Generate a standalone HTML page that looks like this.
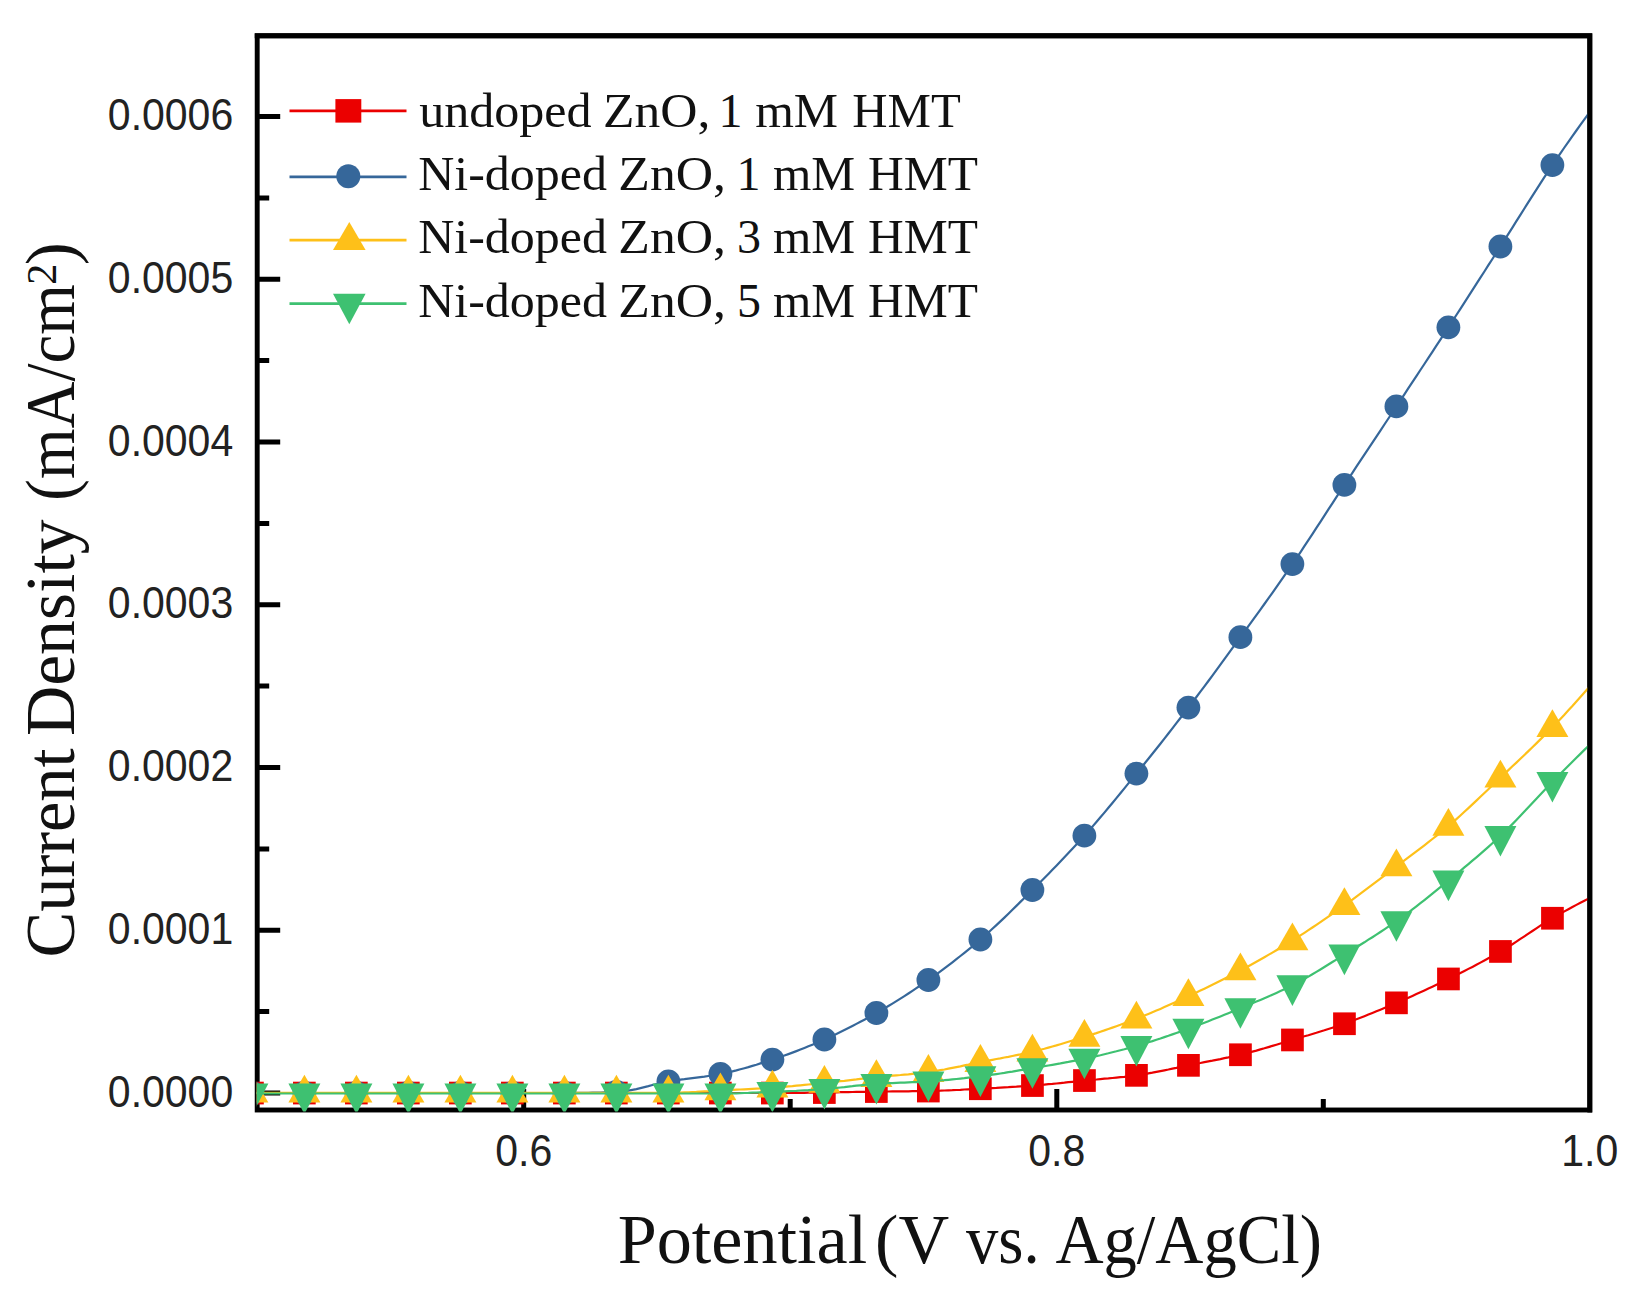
<!DOCTYPE html>
<html><head><meta charset="utf-8"><title>Current Density vs Potential</title>
<style>
html,body{margin:0;padding:0;background:#fff;}
svg{display:block;}
.sans{font-family:"Liberation Sans",Arial,sans-serif;font-size:41px;fill:#222;}
.serif{font-family:"Liberation Serif","Times New Roman",serif;fill:#111;}
</style></head><body>
<svg width="1641" height="1305" viewBox="0 0 1641 1305">
<rect width="1641" height="1305" fill="#fff"/>
<defs><clipPath id="clip"><rect x="256.7" y="35.8" width="1333.1" height="1075.7"/></clipPath></defs>

<rect x="257.2" y="35.8" width="1332.6" height="1074.2" fill="none" stroke="#000" stroke-width="4.9"/>
<path d="M257.2,1093.0 h23 M257.2,930.2 h23 M257.2,767.5 h23 M257.2,604.8 h23 M257.2,442.0 h23 M257.2,279.2 h23 M257.2,116.5 h23 M257.2,1011.6 h12 M257.2,848.9 h12 M257.2,686.1 h12 M257.2,523.4 h12 M257.2,360.6 h12 M257.2,197.9 h12 M523.7,1110.0 v-21 M1056.8,1110.0 v-21 M790.2,1110.0 v-11 M1323.3,1110.0 v-11" stroke="#000" stroke-width="5.0" fill="none"/>
<text class="sans" transform="translate(233.2,1106.6) scale(1,1.07)" text-anchor="end">0.0000</text>
<text class="sans" transform="translate(233.2,943.9) scale(1,1.07)" text-anchor="end">0.0001</text>
<text class="sans" transform="translate(233.2,781.1) scale(1,1.07)" text-anchor="end">0.0002</text>
<text class="sans" transform="translate(233.2,618.4) scale(1,1.07)" text-anchor="end">0.0003</text>
<text class="sans" transform="translate(233.2,455.6) scale(1,1.07)" text-anchor="end">0.0004</text>
<text class="sans" transform="translate(233.2,292.9) scale(1,1.07)" text-anchor="end">0.0005</text>
<text class="sans" transform="translate(233.2,130.1) scale(1,1.07)" text-anchor="end">0.0006</text>
<text class="sans" transform="translate(523.7,1165.6) scale(1,1.08)" text-anchor="middle">0.6</text>
<text class="sans" transform="translate(1056.8,1165.6) scale(1,1.08)" text-anchor="middle">0.8</text>
<text class="sans" transform="translate(1589.8,1165.6) scale(1,1.08)" text-anchor="middle">1.0</text>
<g clip-path="url(#clip)">
<path d="M252.4,1093.0 L256.4,1093.0 L260.4,1093.0 L264.4,1093.0 L268.4,1093.0 L272.4,1093.0 L276.4,1093.0 L280.4,1093.0 L284.4,1093.0 L288.4,1093.0 L292.4,1093.0 L296.4,1093.0 L300.4,1093.0 L304.4,1093.0 L308.4,1093.0 L312.4,1093.0 L316.4,1093.0 L320.4,1093.0 L324.4,1093.0 L328.4,1093.0 L332.4,1093.0 L336.4,1093.0 L340.4,1093.0 L344.4,1093.0 L348.4,1093.0 L352.4,1093.0 L356.4,1093.0 L360.4,1093.0 L364.4,1093.0 L368.4,1093.0 L372.4,1093.0 L376.4,1093.0 L380.4,1093.0 L384.4,1093.0 L388.4,1093.0 L392.4,1093.0 L396.4,1093.0 L400.4,1093.0 L404.4,1093.0 L408.4,1093.0 L412.4,1093.0 L416.4,1093.0 L420.4,1093.0 L424.4,1093.0 L428.4,1093.0 L432.4,1093.0 L436.4,1093.0 L440.4,1093.0 L444.4,1093.0 L448.4,1093.0 L452.4,1093.0 L456.4,1093.0 L460.4,1093.0 L464.4,1093.0 L468.4,1093.0 L472.4,1093.0 L476.4,1093.0 L480.4,1093.0 L484.4,1093.0 L488.4,1093.0 L492.4,1093.0 L496.4,1093.0 L500.4,1093.0 L504.4,1093.0 L508.4,1093.0 L512.4,1093.0 L516.4,1093.0 L520.4,1093.0 L524.4,1093.0 L528.4,1093.0 L532.4,1093.0 L536.4,1093.0 L540.4,1093.0 L544.4,1093.0 L548.4,1093.0 L552.4,1093.0 L556.4,1093.0 L560.4,1093.0 L564.4,1093.0 L568.4,1093.0 L572.4,1093.0 L576.4,1093.0 L580.4,1093.0 L584.4,1093.0 L588.4,1093.0 L592.4,1093.0 L596.4,1093.0 L600.4,1093.0 L604.4,1093.0 L608.4,1093.0 L612.4,1093.0 L616.4,1093.0 L620.4,1093.0 L624.4,1093.0 L628.4,1093.0 L632.4,1093.0 L636.4,1093.0 L640.4,1093.0 L644.4,1093.0 L648.4,1093.0 L652.4,1093.0 L656.4,1093.0 L660.4,1093.0 L664.4,1093.0 L668.4,1093.0 L672.4,1093.0 L676.4,1093.0 L680.4,1093.0 L684.4,1093.0 L688.4,1093.0 L692.4,1093.0 L696.4,1093.0 L700.4,1093.0 L704.4,1093.0 L708.4,1093.0 L712.4,1093.0 L716.4,1093.0 L720.4,1093.0 L724.4,1093.0 L728.4,1093.0 L732.4,1093.0 L736.4,1093.0 L740.4,1093.0 L744.4,1093.0 L748.4,1093.0 L752.4,1093.0 L756.4,1093.0 L760.4,1093.0 L764.4,1093.0 L768.4,1093.0 L772.4,1093.0 L776.4,1093.0 L780.4,1093.0 L784.4,1093.0 L788.4,1092.9 L792.4,1092.9 L796.4,1092.9 L800.4,1092.8 L804.4,1092.8 L808.4,1092.7 L812.4,1092.7 L816.4,1092.6 L820.4,1092.6 L824.4,1092.5 L828.4,1092.4 L832.4,1092.4 L836.4,1092.3 L840.4,1092.2 L844.4,1092.2 L848.4,1092.1 L852.4,1092.0 L856.4,1091.9 L860.4,1091.9 L864.4,1091.8 L868.4,1091.7 L872.4,1091.7 L876.4,1091.6 L880.4,1091.5 L884.4,1091.5 L888.4,1091.5 L892.4,1091.4 L896.4,1091.4 L900.4,1091.3 L904.4,1091.3 L908.4,1091.3 L912.4,1091.2 L916.4,1091.2 L920.4,1091.1 L924.4,1091.1 L928.4,1091.0 L932.4,1090.9 L936.4,1090.8 L940.4,1090.7 L944.4,1090.5 L948.4,1090.3 L952.4,1090.2 L956.4,1090.0 L960.4,1089.8 L964.4,1089.5 L968.4,1089.3 L972.4,1089.1 L976.4,1088.9 L980.4,1088.7 L984.4,1088.5 L988.4,1088.3 L992.4,1088.1 L996.4,1087.9 L1000.4,1087.6 L1004.4,1087.4 L1008.4,1087.2 L1012.4,1086.9 L1016.4,1086.7 L1020.4,1086.4 L1024.4,1086.2 L1028.4,1085.9 L1032.4,1085.6 L1036.4,1085.3 L1040.4,1085.0 L1044.4,1084.6 L1048.4,1084.2 L1052.4,1083.9 L1056.4,1083.5 L1060.4,1083.1 L1064.4,1082.7 L1068.4,1082.2 L1072.4,1081.8 L1076.4,1081.4 L1080.4,1081.0 L1084.4,1080.6 L1088.4,1080.2 L1092.4,1079.8 L1096.4,1079.5 L1100.4,1079.1 L1104.4,1078.7 L1108.4,1078.4 L1112.4,1078.0 L1116.4,1077.6 L1120.4,1077.2 L1124.4,1076.8 L1128.4,1076.3 L1132.4,1075.8 L1136.4,1075.3 L1140.4,1074.7 L1144.4,1074.1 L1148.4,1073.4 L1152.4,1072.7 L1156.4,1071.9 L1160.4,1071.1 L1164.4,1070.3 L1168.4,1069.5 L1172.4,1068.6 L1176.4,1067.8 L1180.4,1066.9 L1184.4,1066.1 L1188.4,1065.3 L1192.4,1064.5 L1196.4,1063.7 L1200.4,1063.0 L1204.4,1062.2 L1208.4,1061.4 L1212.4,1060.7 L1216.4,1059.9 L1220.4,1059.1 L1224.4,1058.2 L1228.4,1057.4 L1232.4,1056.5 L1236.4,1055.6 L1240.4,1054.7 L1244.4,1053.7 L1248.4,1052.7 L1252.4,1051.6 L1256.4,1050.6 L1260.4,1049.4 L1264.4,1048.3 L1268.4,1047.1 L1272.4,1045.9 L1276.4,1044.7 L1280.4,1043.5 L1284.4,1042.3 L1288.4,1041.1 L1292.4,1039.9 L1296.4,1038.7 L1300.4,1037.5 L1304.4,1036.3 L1308.4,1035.2 L1312.4,1034.0 L1316.4,1032.8 L1320.4,1031.5 L1324.4,1030.3 L1328.4,1029.0 L1332.4,1027.7 L1336.4,1026.4 L1340.4,1025.1 L1344.4,1023.7 L1348.4,1022.3 L1352.4,1020.8 L1356.4,1019.3 L1360.4,1017.8 L1364.4,1016.2 L1368.4,1014.6 L1372.4,1013.0 L1376.4,1011.3 L1380.4,1009.7 L1384.4,1008.0 L1388.4,1006.3 L1392.4,1004.6 L1396.4,1002.9 L1400.4,1001.2 L1404.4,999.4 L1408.4,997.7 L1412.4,995.9 L1416.4,994.1 L1420.4,992.3 L1424.4,990.4 L1428.4,988.6 L1432.4,986.7 L1436.4,984.8 L1440.4,982.9 L1444.4,981.0 L1448.4,979.0 L1452.4,977.0 L1456.4,975.0 L1460.4,973.0 L1464.4,971.0 L1468.4,968.9 L1472.4,966.9 L1476.4,964.8 L1480.4,962.6 L1484.4,960.5 L1488.4,958.3 L1492.4,956.1 L1496.4,953.8 L1500.4,951.5 L1504.4,949.1 L1508.4,946.7 L1512.4,944.2 L1516.4,941.6 L1520.4,938.9 L1524.4,936.3 L1528.4,933.6 L1532.4,931.0 L1536.4,928.3 L1540.4,925.7 L1544.4,923.2 L1548.4,920.7 L1552.4,918.3 L1556.4,916.0 L1560.4,913.7 L1564.4,911.4 L1568.4,909.2 L1572.4,907.0 L1576.4,904.9 L1580.4,902.8 L1584.4,900.7 L1588.4,898.6 L1589.8,897.9" fill="none" stroke="#EB0000" stroke-width="2.2"/>
<g fill="#EB0000"><rect x="241.1" y="1081.7" width="22.7" height="22.7"/><rect x="293.0" y="1081.7" width="22.7" height="22.7"/><rect x="345.0" y="1081.7" width="22.7" height="22.7"/><rect x="397.0" y="1081.7" width="22.7" height="22.7"/><rect x="449.0" y="1081.7" width="22.7" height="22.7"/><rect x="501.0" y="1081.7" width="22.7" height="22.7"/><rect x="553.0" y="1081.7" width="22.7" height="22.7"/><rect x="605.0" y="1081.7" width="22.7" height="22.7"/><rect x="657.0" y="1081.7" width="22.7" height="22.7"/><rect x="709.0" y="1081.7" width="22.7" height="22.7"/><rect x="761.0" y="1081.7" width="22.7" height="22.7"/><rect x="813.0" y="1081.2" width="22.7" height="22.7"/><rect x="865.0" y="1080.2" width="22.7" height="22.7"/><rect x="917.0" y="1079.7" width="22.7" height="22.7"/><rect x="969.0" y="1077.4" width="22.7" height="22.7"/><rect x="1021.1" y="1074.2" width="22.7" height="22.7"/><rect x="1073.1" y="1069.2" width="22.7" height="22.7"/><rect x="1125.1" y="1064.0" width="22.7" height="22.7"/><rect x="1177.1" y="1054.0" width="22.7" height="22.7"/><rect x="1229.1" y="1043.4" width="22.7" height="22.7"/><rect x="1281.1" y="1028.6" width="22.7" height="22.7"/><rect x="1333.1" y="1012.4" width="22.7" height="22.7"/><rect x="1385.1" y="991.5" width="22.7" height="22.7"/><rect x="1437.1" y="967.6" width="22.7" height="22.7"/><rect x="1489.1" y="940.1" width="22.7" height="22.7"/><rect x="1541.1" y="906.9" width="22.7" height="22.7"/></g>
<path d="M252.4,1093.0 L256.4,1093.0 L260.4,1093.0 L264.4,1093.0 L268.4,1093.0 L272.4,1093.0 L276.4,1093.0 L280.4,1093.0 L284.4,1093.0 L288.4,1093.0 L292.4,1093.0 L296.4,1093.0 L300.4,1093.0 L304.4,1093.0 L308.4,1093.0 L312.4,1093.0 L316.4,1093.0 L320.4,1093.0 L324.4,1093.0 L328.4,1093.0 L332.4,1093.0 L336.4,1093.0 L340.4,1093.0 L344.4,1093.0 L348.4,1093.0 L352.4,1093.0 L356.4,1093.0 L360.4,1093.0 L364.4,1093.0 L368.4,1093.0 L372.4,1093.0 L376.4,1093.0 L380.4,1093.0 L384.4,1093.0 L388.4,1093.0 L392.4,1093.0 L396.4,1093.0 L400.4,1093.0 L404.4,1093.0 L408.4,1093.0 L412.4,1093.0 L416.4,1093.0 L420.4,1093.0 L424.4,1093.0 L428.4,1093.0 L432.4,1093.0 L436.4,1093.0 L440.4,1093.0 L444.4,1093.0 L448.4,1093.0 L452.4,1093.0 L456.4,1093.0 L460.4,1093.0 L464.4,1093.0 L468.4,1093.0 L472.4,1093.0 L476.4,1093.0 L480.4,1093.0 L484.4,1093.0 L488.4,1093.0 L492.4,1093.0 L496.4,1093.0 L500.4,1093.0 L504.4,1093.0 L508.4,1093.0 L512.4,1093.0 L516.4,1093.0 L520.4,1093.0 L524.4,1093.0 L528.4,1093.0 L532.4,1093.0 L536.4,1093.0 L540.4,1093.0 L544.4,1093.0 L548.4,1093.0 L552.4,1093.0 L556.4,1093.0 L560.4,1093.0 L564.4,1093.0 L568.4,1093.0 L572.4,1093.0 L576.4,1092.9 L580.4,1092.9 L584.4,1092.8 L588.4,1092.8 L592.4,1092.7 L596.4,1092.6 L600.4,1092.5 L604.4,1092.4 L608.4,1092.3 L612.4,1092.1 L616.4,1092.0 L620.4,1091.8 L624.4,1091.3 L628.4,1090.7 L632.4,1089.9 L636.4,1089.1 L640.4,1088.1 L644.4,1087.1 L648.4,1086.1 L652.4,1085.0 L656.4,1084.0 L660.4,1083.1 L664.4,1082.2 L668.4,1081.5 L672.4,1080.9 L676.4,1080.3 L680.4,1079.7 L684.4,1079.2 L688.4,1078.6 L692.4,1078.1 L696.4,1077.6 L700.4,1077.1 L704.4,1076.6 L708.4,1076.0 L712.4,1075.4 L716.4,1074.7 L720.4,1074.0 L724.4,1073.2 L728.4,1072.3 L732.4,1071.4 L736.4,1070.4 L740.4,1069.3 L744.4,1068.2 L748.4,1067.1 L752.4,1065.9 L756.4,1064.7 L760.4,1063.4 L764.4,1062.2 L768.4,1060.9 L772.4,1059.6 L776.4,1058.3 L780.4,1056.9 L784.4,1055.5 L788.4,1054.1 L792.4,1052.6 L796.4,1051.1 L800.4,1049.5 L804.4,1047.9 L808.4,1046.3 L812.4,1044.7 L816.4,1043.0 L820.4,1041.2 L824.4,1039.5 L828.4,1037.7 L832.4,1035.9 L836.4,1034.0 L840.4,1032.1 L844.4,1030.1 L848.4,1028.1 L852.4,1026.0 L856.4,1023.9 L860.4,1021.8 L864.4,1019.7 L868.4,1017.5 L872.4,1015.2 L876.4,1013.0 L880.4,1010.7 L884.4,1008.4 L888.4,1006.0 L892.4,1003.6 L896.4,1001.1 L900.4,998.6 L904.4,996.1 L908.4,993.5 L912.4,990.9 L916.4,988.2 L920.4,985.5 L924.4,982.8 L928.4,980.0 L932.4,977.2 L936.4,974.3 L940.4,971.4 L944.4,968.4 L948.4,965.4 L952.4,962.3 L956.4,959.2 L960.4,956.0 L964.4,952.8 L968.4,949.6 L972.4,946.3 L976.4,942.9 L980.4,939.5 L984.4,936.0 L988.4,932.5 L992.4,928.8 L996.4,925.1 L1000.4,921.4 L1004.4,917.6 L1008.4,913.7 L1012.4,909.8 L1016.4,905.9 L1020.4,901.9 L1024.4,898.0 L1028.4,894.0 L1032.4,890.0 L1036.4,886.0 L1040.4,882.0 L1044.4,878.0 L1048.4,873.9 L1052.4,869.8 L1056.4,865.7 L1060.4,861.5 L1064.4,857.3 L1068.4,853.1 L1072.4,848.8 L1076.4,844.5 L1080.4,840.1 L1084.4,835.7 L1088.4,831.2 L1092.4,826.6 L1096.4,822.0 L1100.4,817.3 L1104.4,812.6 L1108.4,807.8 L1112.4,803.0 L1116.4,798.1 L1120.4,793.3 L1124.4,788.4 L1128.4,783.4 L1132.4,778.5 L1136.4,773.6 L1140.4,768.7 L1144.4,763.7 L1148.4,758.7 L1152.4,753.7 L1156.4,748.7 L1160.4,743.7 L1164.4,738.6 L1168.4,733.5 L1172.4,728.4 L1176.4,723.2 L1180.4,718.0 L1184.4,712.8 L1188.4,707.6 L1192.4,702.3 L1196.4,697.0 L1200.4,691.7 L1204.4,686.4 L1208.4,681.0 L1212.4,675.6 L1216.4,670.1 L1220.4,664.7 L1224.4,659.2 L1228.4,653.7 L1232.4,648.2 L1236.4,642.7 L1240.4,637.2 L1244.4,631.7 L1248.4,626.2 L1252.4,620.6 L1256.4,615.1 L1260.4,609.6 L1264.4,604.0 L1268.4,598.4 L1272.4,592.8 L1276.4,587.1 L1280.4,581.4 L1284.4,575.7 L1288.4,569.9 L1292.4,564.1 L1296.4,558.2 L1300.4,552.3 L1304.4,546.2 L1308.4,540.2 L1312.4,534.1 L1316.4,527.9 L1320.4,521.8 L1324.4,515.6 L1328.4,509.4 L1332.4,503.3 L1336.4,497.1 L1340.4,491.0 L1344.4,484.9 L1348.4,478.8 L1352.4,472.8 L1356.4,466.7 L1360.4,460.7 L1364.4,454.7 L1368.4,448.7 L1372.4,442.6 L1376.4,436.6 L1380.4,430.6 L1384.4,424.5 L1388.4,418.5 L1392.4,412.5 L1396.4,406.4 L1400.4,400.3 L1404.4,394.3 L1408.4,388.2 L1412.4,382.2 L1416.4,376.1 L1420.4,370.0 L1424.4,364.0 L1428.4,357.9 L1432.4,351.8 L1436.4,345.7 L1440.4,339.6 L1444.4,333.4 L1448.4,327.3 L1452.4,321.1 L1456.4,315.0 L1460.4,308.8 L1464.4,302.6 L1468.4,296.4 L1472.4,290.2 L1476.4,283.9 L1480.4,277.7 L1484.4,271.5 L1488.4,265.2 L1492.4,259.0 L1496.4,252.7 L1500.4,246.5 L1504.4,240.2 L1508.4,233.9 L1512.4,227.6 L1516.4,221.2 L1520.4,214.9 L1524.4,208.5 L1528.4,202.1 L1532.4,195.8 L1536.4,189.6 L1540.4,183.3 L1544.4,177.2 L1548.4,171.1 L1552.4,165.1 L1556.4,159.2 L1560.4,153.3 L1564.4,147.5 L1568.4,141.8 L1572.4,136.1 L1576.4,130.5 L1580.4,124.9 L1584.4,119.4 L1588.4,113.9 L1589.8,112.0" fill="none" stroke="#36679A" stroke-width="2.2"/>
<g fill="#36679A"><circle cx="252.4" cy="1093.0" r="11.9"/><circle cx="304.4" cy="1093.0" r="11.9"/><circle cx="356.4" cy="1093.0" r="11.9"/><circle cx="408.4" cy="1093.0" r="11.9"/><circle cx="460.4" cy="1093.0" r="11.9"/><circle cx="512.4" cy="1093.0" r="11.9"/><circle cx="564.4" cy="1093.0" r="11.9"/><circle cx="616.4" cy="1092.0" r="11.9"/><circle cx="668.4" cy="1081.5" r="11.9"/><circle cx="720.4" cy="1074.0" r="11.9"/><circle cx="772.4" cy="1059.6" r="11.9"/><circle cx="824.4" cy="1039.5" r="11.9"/><circle cx="876.4" cy="1013.0" r="11.9"/><circle cx="928.4" cy="980.0" r="11.9"/><circle cx="980.4" cy="939.5" r="11.9"/><circle cx="1032.4" cy="890.0" r="11.9"/><circle cx="1084.4" cy="835.7" r="11.9"/><circle cx="1136.4" cy="773.6" r="11.9"/><circle cx="1188.4" cy="707.6" r="11.9"/><circle cx="1240.4" cy="637.2" r="11.9"/><circle cx="1292.4" cy="564.1" r="11.9"/><circle cx="1344.4" cy="484.9" r="11.9"/><circle cx="1396.4" cy="406.4" r="11.9"/><circle cx="1448.4" cy="327.3" r="11.9"/><circle cx="1500.4" cy="246.5" r="11.9"/><circle cx="1552.4" cy="165.1" r="11.9"/></g>
<path d="M252.4,1092.8 L256.4,1092.8 L260.4,1092.8 L264.4,1092.8 L268.4,1092.8 L272.4,1092.8 L276.4,1092.8 L280.4,1092.8 L284.4,1092.8 L288.4,1092.8 L292.4,1092.8 L296.4,1092.8 L300.4,1092.8 L304.4,1092.8 L308.4,1092.8 L312.4,1092.8 L316.4,1092.8 L320.4,1092.8 L324.4,1092.8 L328.4,1092.8 L332.4,1092.8 L336.4,1092.8 L340.4,1092.8 L344.4,1092.8 L348.4,1092.8 L352.4,1092.8 L356.4,1092.8 L360.4,1092.8 L364.4,1092.8 L368.4,1092.8 L372.4,1092.8 L376.4,1092.8 L380.4,1092.8 L384.4,1092.8 L388.4,1092.8 L392.4,1092.8 L396.4,1092.8 L400.4,1092.8 L404.4,1092.8 L408.4,1092.8 L412.4,1092.8 L416.4,1092.8 L420.4,1092.8 L424.4,1092.8 L428.4,1092.8 L432.4,1092.8 L436.4,1092.8 L440.4,1092.8 L444.4,1092.8 L448.4,1092.8 L452.4,1092.8 L456.4,1092.8 L460.4,1092.8 L464.4,1092.8 L468.4,1092.8 L472.4,1092.8 L476.4,1092.8 L480.4,1092.8 L484.4,1092.8 L488.4,1092.8 L492.4,1092.8 L496.4,1092.8 L500.4,1092.8 L504.4,1092.8 L508.4,1092.8 L512.4,1092.8 L516.4,1092.8 L520.4,1092.8 L524.4,1092.8 L528.4,1092.8 L532.4,1092.8 L536.4,1092.8 L540.4,1092.8 L544.4,1092.8 L548.4,1092.8 L552.4,1092.8 L556.4,1092.8 L560.4,1092.8 L564.4,1092.8 L568.4,1092.8 L572.4,1092.8 L576.4,1092.8 L580.4,1092.8 L584.4,1092.8 L588.4,1092.8 L592.4,1092.8 L596.4,1092.8 L600.4,1092.8 L604.4,1092.8 L608.4,1092.8 L612.4,1092.8 L616.4,1092.8 L620.4,1092.8 L624.4,1092.8 L628.4,1092.8 L632.4,1092.8 L636.4,1092.8 L640.4,1092.8 L644.4,1092.8 L648.4,1092.8 L652.4,1092.8 L656.4,1092.8 L660.4,1092.8 L664.4,1092.8 L668.4,1092.8 L672.4,1092.8 L676.4,1092.7 L680.4,1092.6 L684.4,1092.4 L688.4,1092.3 L692.4,1092.1 L696.4,1091.9 L700.4,1091.6 L704.4,1091.4 L708.4,1091.2 L712.4,1090.9 L716.4,1090.7 L720.4,1090.5 L724.4,1090.3 L728.4,1090.1 L732.4,1089.9 L736.4,1089.7 L740.4,1089.5 L744.4,1089.3 L748.4,1089.1 L752.4,1088.9 L756.4,1088.7 L760.4,1088.5 L764.4,1088.2 L768.4,1088.0 L772.4,1087.7 L776.4,1087.4 L780.4,1087.1 L784.4,1086.8 L788.4,1086.4 L792.4,1086.1 L796.4,1085.7 L800.4,1085.3 L804.4,1084.9 L808.4,1084.5 L812.4,1084.1 L816.4,1083.7 L820.4,1083.3 L824.4,1082.9 L828.4,1082.5 L832.4,1082.1 L836.4,1081.6 L840.4,1081.2 L844.4,1080.8 L848.4,1080.3 L852.4,1079.8 L856.4,1079.4 L860.4,1078.9 L864.4,1078.5 L868.4,1078.1 L872.4,1077.6 L876.4,1077.2 L880.4,1076.8 L884.4,1076.4 L888.4,1076.1 L892.4,1075.7 L896.4,1075.3 L900.4,1075.0 L904.4,1074.6 L908.4,1074.3 L912.4,1073.9 L916.4,1073.5 L920.4,1073.1 L924.4,1072.6 L928.4,1072.1 L932.4,1071.5 L936.4,1070.9 L940.4,1070.2 L944.4,1069.5 L948.4,1068.7 L952.4,1067.9 L956.4,1067.1 L960.4,1066.3 L964.4,1065.4 L968.4,1064.6 L972.4,1063.7 L976.4,1062.9 L980.4,1062.1 L984.4,1061.3 L988.4,1060.6 L992.4,1059.8 L996.4,1059.0 L1000.4,1058.3 L1004.4,1057.5 L1008.4,1056.8 L1012.4,1056.0 L1016.4,1055.2 L1020.4,1054.4 L1024.4,1053.5 L1028.4,1052.6 L1032.4,1051.7 L1036.4,1050.7 L1040.4,1049.7 L1044.4,1048.7 L1048.4,1047.6 L1052.4,1046.5 L1056.4,1045.4 L1060.4,1044.2 L1064.4,1043.0 L1068.4,1041.8 L1072.4,1040.6 L1076.4,1039.4 L1080.4,1038.1 L1084.4,1036.9 L1088.4,1035.6 L1092.4,1034.4 L1096.4,1033.1 L1100.4,1031.7 L1104.4,1030.4 L1108.4,1029.0 L1112.4,1027.6 L1116.4,1026.2 L1120.4,1024.8 L1124.4,1023.3 L1128.4,1021.8 L1132.4,1020.3 L1136.4,1018.8 L1140.4,1017.2 L1144.4,1015.6 L1148.4,1014.0 L1152.4,1012.3 L1156.4,1010.6 L1160.4,1008.9 L1164.4,1007.1 L1168.4,1005.3 L1172.4,1003.5 L1176.4,1001.7 L1180.4,999.9 L1184.4,998.0 L1188.4,996.2 L1192.4,994.3 L1196.4,992.5 L1200.4,990.6 L1204.4,988.7 L1208.4,986.7 L1212.4,984.8 L1216.4,982.8 L1220.4,980.8 L1224.4,978.8 L1228.4,976.8 L1232.4,974.7 L1236.4,972.6 L1240.4,970.5 L1244.4,968.4 L1248.4,966.2 L1252.4,964.0 L1256.4,961.8 L1260.4,959.5 L1264.4,957.2 L1268.4,954.9 L1272.4,952.6 L1276.4,950.2 L1280.4,947.8 L1284.4,945.4 L1288.4,943.0 L1292.4,940.5 L1296.4,938.0 L1300.4,935.4 L1304.4,932.8 L1308.4,930.2 L1312.4,927.5 L1316.4,924.8 L1320.4,922.1 L1324.4,919.3 L1328.4,916.6 L1332.4,913.8 L1336.4,911.0 L1340.4,908.1 L1344.4,905.3 L1348.4,902.4 L1352.4,899.6 L1356.4,896.6 L1360.4,893.7 L1364.4,890.7 L1368.4,887.7 L1372.4,884.7 L1376.4,881.7 L1380.4,878.7 L1384.4,875.6 L1388.4,872.6 L1392.4,869.5 L1396.4,866.5 L1400.4,863.5 L1404.4,860.4 L1408.4,857.4 L1412.4,854.4 L1416.4,851.4 L1420.4,848.3 L1424.4,845.3 L1428.4,842.2 L1432.4,839.0 L1436.4,835.9 L1440.4,832.6 L1444.4,829.4 L1448.4,826.0 L1452.4,822.6 L1456.4,819.1 L1460.4,815.5 L1464.4,811.8 L1468.4,808.1 L1472.4,804.4 L1476.4,800.6 L1480.4,796.8 L1484.4,793.0 L1488.4,789.2 L1492.4,785.3 L1496.4,781.5 L1500.4,777.7 L1504.4,773.9 L1508.4,770.1 L1512.4,766.3 L1516.4,762.6 L1520.4,758.8 L1524.4,755.0 L1528.4,751.1 L1532.4,747.3 L1536.4,743.4 L1540.4,739.4 L1544.4,735.4 L1548.4,731.4 L1552.4,727.3 L1556.4,723.1 L1560.4,718.9 L1564.4,714.7 L1568.4,710.3 L1572.4,706.0 L1576.4,701.5 L1580.4,697.1 L1584.4,692.6 L1588.4,688.0 L1589.8,686.4" fill="none" stroke="#FEC019" stroke-width="2.2"/>
<g fill="#FEC019"><path d="M252.4,1074.8 L268.4,1102.6 H236.4z"/><path d="M304.4,1074.8 L320.4,1102.6 H288.4z"/><path d="M356.4,1074.8 L372.4,1102.6 H340.4z"/><path d="M408.4,1074.8 L424.4,1102.6 H392.4z"/><path d="M460.4,1074.8 L476.4,1102.6 H444.4z"/><path d="M512.4,1074.8 L528.4,1102.6 H496.4z"/><path d="M564.4,1074.8 L580.4,1102.6 H548.4z"/><path d="M616.4,1074.8 L632.4,1102.6 H600.4z"/><path d="M668.4,1074.8 L684.4,1102.6 H652.4z"/><path d="M720.4,1072.5 L736.4,1100.3 H704.4z"/><path d="M772.4,1069.7 L788.4,1097.5 H756.4z"/><path d="M824.4,1064.9 L840.4,1092.7 H808.4z"/><path d="M876.4,1059.2 L892.4,1087.0 H860.4z"/><path d="M928.4,1054.1 L944.4,1081.9 H912.4z"/><path d="M980.4,1044.1 L996.4,1071.9 H964.4z"/><path d="M1032.4,1033.7 L1048.4,1061.5 H1016.4z"/><path d="M1084.4,1018.9 L1100.4,1046.7 H1068.4z"/><path d="M1136.4,1000.8 L1152.4,1028.6 H1120.4z"/><path d="M1188.4,978.2 L1204.4,1006.0 H1172.4z"/><path d="M1240.4,952.5 L1256.4,980.3 H1224.4z"/><path d="M1292.4,922.5 L1308.4,950.3 H1276.4z"/><path d="M1344.4,887.3 L1360.4,915.1 H1328.4z"/><path d="M1396.4,848.5 L1412.4,876.3 H1380.4z"/><path d="M1448.4,808.0 L1464.4,835.8 H1432.4z"/><path d="M1500.4,759.7 L1516.4,787.5 H1484.4z"/><path d="M1552.4,709.3 L1568.4,737.1 H1536.4z"/></g>
<path d="M252.4,1093.5 L256.4,1093.5 L260.4,1093.5 L264.4,1093.5 L268.4,1093.5 L272.4,1093.5 L276.4,1093.5 L280.4,1093.5 L284.4,1093.5 L288.4,1093.5 L292.4,1093.5 L296.4,1093.5 L300.4,1093.5 L304.4,1093.5 L308.4,1093.5 L312.4,1093.5 L316.4,1093.5 L320.4,1093.5 L324.4,1093.5 L328.4,1093.5 L332.4,1093.5 L336.4,1093.5 L340.4,1093.5 L344.4,1093.5 L348.4,1093.5 L352.4,1093.5 L356.4,1093.5 L360.4,1093.5 L364.4,1093.5 L368.4,1093.5 L372.4,1093.5 L376.4,1093.5 L380.4,1093.5 L384.4,1093.5 L388.4,1093.5 L392.4,1093.5 L396.4,1093.5 L400.4,1093.5 L404.4,1093.5 L408.4,1093.5 L412.4,1093.5 L416.4,1093.5 L420.4,1093.5 L424.4,1093.5 L428.4,1093.5 L432.4,1093.5 L436.4,1093.5 L440.4,1093.5 L444.4,1093.5 L448.4,1093.5 L452.4,1093.5 L456.4,1093.5 L460.4,1093.5 L464.4,1093.5 L468.4,1093.5 L472.4,1093.5 L476.4,1093.5 L480.4,1093.5 L484.4,1093.5 L488.4,1093.5 L492.4,1093.5 L496.4,1093.5 L500.4,1093.5 L504.4,1093.5 L508.4,1093.5 L512.4,1093.5 L516.4,1093.5 L520.4,1093.5 L524.4,1093.5 L528.4,1093.5 L532.4,1093.5 L536.4,1093.5 L540.4,1093.5 L544.4,1093.5 L548.4,1093.5 L552.4,1093.5 L556.4,1093.5 L560.4,1093.5 L564.4,1093.5 L568.4,1093.5 L572.4,1093.5 L576.4,1093.5 L580.4,1093.5 L584.4,1093.5 L588.4,1093.5 L592.4,1093.5 L596.4,1093.5 L600.4,1093.5 L604.4,1093.5 L608.4,1093.5 L612.4,1093.5 L616.4,1093.5 L620.4,1093.5 L624.4,1093.5 L628.4,1093.5 L632.4,1093.5 L636.4,1093.5 L640.4,1093.5 L644.4,1093.5 L648.4,1093.5 L652.4,1093.5 L656.4,1093.5 L660.4,1093.5 L664.4,1093.5 L668.4,1093.5 L672.4,1093.5 L676.4,1093.5 L680.4,1093.5 L684.4,1093.5 L688.4,1093.5 L692.4,1093.5 L696.4,1093.5 L700.4,1093.5 L704.4,1093.5 L708.4,1093.5 L712.4,1093.5 L716.4,1093.5 L720.4,1093.5 L724.4,1093.5 L728.4,1093.4 L732.4,1093.4 L736.4,1093.3 L740.4,1093.2 L744.4,1093.0 L748.4,1092.9 L752.4,1092.7 L756.4,1092.6 L760.4,1092.4 L764.4,1092.2 L768.4,1092.1 L772.4,1091.9 L776.4,1091.7 L780.4,1091.6 L784.4,1091.4 L788.4,1091.2 L792.4,1091.0 L796.4,1090.8 L800.4,1090.5 L804.4,1090.3 L808.4,1090.1 L812.4,1089.8 L816.4,1089.6 L820.4,1089.3 L824.4,1089.0 L828.4,1088.7 L832.4,1088.3 L836.4,1087.9 L840.4,1087.5 L844.4,1087.1 L848.4,1086.6 L852.4,1086.2 L856.4,1085.7 L860.4,1085.3 L864.4,1084.9 L868.4,1084.5 L872.4,1084.2 L876.4,1083.9 L880.4,1083.7 L884.4,1083.4 L888.4,1083.2 L892.4,1083.1 L896.4,1082.9 L900.4,1082.7 L904.4,1082.6 L908.4,1082.4 L912.4,1082.2 L916.4,1082.1 L920.4,1081.9 L924.4,1081.6 L928.4,1081.4 L932.4,1081.1 L936.4,1080.8 L940.4,1080.5 L944.4,1080.2 L948.4,1079.8 L952.4,1079.4 L956.4,1079.0 L960.4,1078.6 L964.4,1078.2 L968.4,1077.7 L972.4,1077.2 L976.4,1076.8 L980.4,1076.3 L984.4,1075.8 L988.4,1075.3 L992.4,1074.7 L996.4,1074.1 L1000.4,1073.5 L1004.4,1072.9 L1008.4,1072.2 L1012.4,1071.6 L1016.4,1070.9 L1020.4,1070.2 L1024.4,1069.6 L1028.4,1068.9 L1032.4,1068.2 L1036.4,1067.5 L1040.4,1066.8 L1044.4,1066.2 L1048.4,1065.5 L1052.4,1064.8 L1056.4,1064.1 L1060.4,1063.4 L1064.4,1062.6 L1068.4,1061.9 L1072.4,1061.1 L1076.4,1060.3 L1080.4,1059.5 L1084.4,1058.7 L1088.4,1057.8 L1092.4,1057.0 L1096.4,1056.1 L1100.4,1055.2 L1104.4,1054.2 L1108.4,1053.3 L1112.4,1052.3 L1116.4,1051.3 L1120.4,1050.2 L1124.4,1049.2 L1128.4,1048.1 L1132.4,1047.0 L1136.4,1045.9 L1140.4,1044.8 L1144.4,1043.6 L1148.4,1042.3 L1152.4,1041.1 L1156.4,1039.8 L1160.4,1038.5 L1164.4,1037.1 L1168.4,1035.8 L1172.4,1034.4 L1176.4,1033.0 L1180.4,1031.6 L1184.4,1030.1 L1188.4,1028.7 L1192.4,1027.2 L1196.4,1025.8 L1200.4,1024.3 L1204.4,1022.7 L1208.4,1021.2 L1212.4,1019.6 L1216.4,1018.0 L1220.4,1016.4 L1224.4,1014.8 L1228.4,1013.2 L1232.4,1011.5 L1236.4,1009.9 L1240.4,1008.2 L1244.4,1006.5 L1248.4,1004.9 L1252.4,1003.2 L1256.4,1001.6 L1260.4,999.9 L1264.4,998.2 L1268.4,996.5 L1272.4,994.7 L1276.4,992.9 L1280.4,991.1 L1284.4,989.2 L1288.4,987.3 L1292.4,985.3 L1296.4,983.2 L1300.4,981.1 L1304.4,978.9 L1308.4,976.6 L1312.4,974.3 L1316.4,971.9 L1320.4,969.5 L1324.4,967.0 L1328.4,964.5 L1332.4,962.0 L1336.4,959.6 L1340.4,957.1 L1344.4,954.6 L1348.4,952.1 L1352.4,949.7 L1356.4,947.2 L1360.4,944.7 L1364.4,942.3 L1368.4,939.7 L1372.4,937.2 L1376.4,934.6 L1380.4,932.0 L1384.4,929.4 L1388.4,926.7 L1392.4,924.0 L1396.4,921.2 L1400.4,918.3 L1404.4,915.4 L1408.4,912.5 L1412.4,909.4 L1416.4,906.3 L1420.4,903.2 L1424.4,900.1 L1428.4,896.9 L1432.4,893.6 L1436.4,890.4 L1440.4,887.1 L1444.4,883.9 L1448.4,880.6 L1452.4,877.3 L1456.4,874.0 L1460.4,870.8 L1464.4,867.4 L1468.4,864.1 L1472.4,860.7 L1476.4,857.3 L1480.4,853.9 L1484.4,850.4 L1488.4,846.9 L1492.4,843.3 L1496.4,839.6 L1500.4,835.9 L1504.4,832.1 L1508.4,828.1 L1512.4,824.1 L1516.4,820.0 L1520.4,815.8 L1524.4,811.5 L1528.4,807.3 L1532.4,803.0 L1536.4,798.7 L1540.4,794.4 L1544.4,790.2 L1548.4,786.0 L1552.4,781.9 L1556.4,777.8 L1560.4,773.8 L1564.4,769.8 L1568.4,765.8 L1572.4,761.8 L1576.4,757.8 L1580.4,753.9 L1584.4,749.9 L1588.4,746.0 L1589.8,744.6" fill="none" stroke="#3EC171" stroke-width="2.2"/>
<g fill="#3EC171"><path d="M252.4,1114.1 L268.4,1083.5 H236.4z"/><path d="M304.4,1114.1 L320.4,1083.5 H288.4z"/><path d="M356.4,1114.1 L372.4,1083.5 H340.4z"/><path d="M408.4,1114.1 L424.4,1083.5 H392.4z"/><path d="M460.4,1114.1 L476.4,1083.5 H444.4z"/><path d="M512.4,1114.1 L528.4,1083.5 H496.4z"/><path d="M564.4,1114.1 L580.4,1083.5 H548.4z"/><path d="M616.4,1114.1 L632.4,1083.5 H600.4z"/><path d="M668.4,1114.1 L684.4,1083.5 H652.4z"/><path d="M720.4,1114.1 L736.4,1083.5 H704.4z"/><path d="M772.4,1112.5 L788.4,1081.9 H756.4z"/><path d="M824.4,1109.6 L840.4,1079.0 H808.4z"/><path d="M876.4,1104.5 L892.4,1073.9 H860.4z"/><path d="M928.4,1102.0 L944.4,1071.4 H912.4z"/><path d="M980.4,1096.9 L996.4,1066.3 H964.4z"/><path d="M1032.4,1088.8 L1048.4,1058.2 H1016.4z"/><path d="M1084.4,1079.3 L1100.4,1048.7 H1068.4z"/><path d="M1136.4,1066.5 L1152.4,1035.9 H1120.4z"/><path d="M1188.4,1049.3 L1204.4,1018.7 H1172.4z"/><path d="M1240.4,1028.8 L1256.4,998.2 H1224.4z"/><path d="M1292.4,1005.9 L1308.4,975.3 H1276.4z"/><path d="M1344.4,975.2 L1360.4,944.6 H1328.4z"/><path d="M1396.4,941.8 L1412.4,911.2 H1380.4z"/><path d="M1448.4,901.2 L1464.4,870.6 H1432.4z"/><path d="M1500.4,856.5 L1516.4,825.9 H1484.4z"/><path d="M1552.4,802.5 L1568.4,771.9 H1536.4z"/></g>
</g>
<path d="M257.2,35.8 H1589.8 V1110.0" fill="none" stroke="#000" stroke-width="4.9" stroke-linecap="square"/>
<path d="M289.5,110.9 H406.5" stroke="#EB0000" stroke-width="2.7" fill="none"/>
<rect x="335.4" y="99.1" width="25.9" height="23.5" fill="#EB0000"/>
<text class="serif" font-size="48"><tspan x="419.2" y="126.8" textLength="172.4" lengthAdjust="spacingAndGlyphs">undoped</tspan> <tspan x="603.0" y="126.8" textLength="107.3" lengthAdjust="spacingAndGlyphs">ZnO,</tspan> <tspan x="718.4" y="126.8" textLength="24.0" lengthAdjust="spacingAndGlyphs">1</tspan> <tspan x="755.2" y="126.8" textLength="82.9" lengthAdjust="spacingAndGlyphs">mM</tspan> <tspan x="852.3" y="126.8" textLength="108.5" lengthAdjust="spacingAndGlyphs">HMT</tspan></text>
<path d="M289.5,176.8 H406.5" stroke="#36679A" stroke-width="2.7" fill="none"/>
<circle cx="348.3" cy="176.2" r="12.0" fill="#36679A"/>
<text class="serif" font-size="48"><tspan x="418.2" y="190.2" textLength="188.7" lengthAdjust="spacingAndGlyphs">Ni-doped</tspan> <tspan x="618.3" y="190.2" textLength="107.7" lengthAdjust="spacingAndGlyphs">ZnO,</tspan> <tspan x="736.4" y="190.2" textLength="24.0" lengthAdjust="spacingAndGlyphs">1</tspan> <tspan x="773.0" y="190.2" textLength="82.2" lengthAdjust="spacingAndGlyphs">mM</tspan> <tspan x="868.1" y="190.2" textLength="109.9" lengthAdjust="spacingAndGlyphs">HMT</tspan></text>
<path d="M289.5,240.1 H406.5" stroke="#FEC019" stroke-width="2.7" fill="none"/>
<g fill="#FEC019"><path d="M349.3,222.1 L365.6,249.9 H333.0z"/></g>
<text class="serif" font-size="48"><tspan x="418.2" y="253.4" textLength="188.7" lengthAdjust="spacingAndGlyphs">Ni-doped</tspan> <tspan x="618.3" y="253.4" textLength="107.7" lengthAdjust="spacingAndGlyphs">ZnO,</tspan> <tspan x="736.9" y="253.4" textLength="24.0" lengthAdjust="spacingAndGlyphs">3</tspan> <tspan x="773.0" y="253.4" textLength="82.2" lengthAdjust="spacingAndGlyphs">mM</tspan> <tspan x="868.1" y="253.4" textLength="109.9" lengthAdjust="spacingAndGlyphs">HMT</tspan></text>
<path d="M289.5,303.7 H406.5" stroke="#3EC171" stroke-width="2.7" fill="none"/>
<g fill="#3EC171"><path d="M349.3,324.3 L365.6,293.7 H333.0z"/></g>
<text class="serif" font-size="48"><tspan x="418.2" y="316.8" textLength="188.7" lengthAdjust="spacingAndGlyphs">Ni-doped</tspan> <tspan x="618.3" y="316.8" textLength="107.7" lengthAdjust="spacingAndGlyphs">ZnO,</tspan> <tspan x="736.9" y="316.8" textLength="24.0" lengthAdjust="spacingAndGlyphs">5</tspan> <tspan x="773.0" y="316.8" textLength="82.2" lengthAdjust="spacingAndGlyphs">mM</tspan> <tspan x="868.1" y="316.8" textLength="109.9" lengthAdjust="spacingAndGlyphs">HMT</tspan></text>
<text class="serif" font-size="69.5"><tspan x="617.7" y="1262.8" textLength="249.6" lengthAdjust="spacingAndGlyphs">Potential</tspan> <tspan x="875.1" y="1262.8" textLength="72.9" lengthAdjust="spacingAndGlyphs">(V</tspan> <tspan x="965.9" y="1262.8" textLength="73.7" lengthAdjust="spacingAndGlyphs">vs.</tspan> <tspan x="1055.4" y="1262.8" textLength="266.5" lengthAdjust="spacingAndGlyphs">Ag/AgCl)</tspan></text>
<g transform="translate(74,0) rotate(-90)">
<text class="serif" font-size="69.5"><tspan x="-957.5" y="0" textLength="209.1" lengthAdjust="spacingAndGlyphs">Current</tspan> <tspan x="-736.1" y="0" textLength="216.7" lengthAdjust="spacingAndGlyphs">Density</tspan> <tspan x="-500.7" y="0" textLength="216.6" lengthAdjust="spacingAndGlyphs">(mA/cm</tspan><tspan x="-284.8" y="-17.6" font-size="42" textLength="21.0" lengthAdjust="spacingAndGlyphs">2</tspan><tspan x="-265.2" y="0" textLength="23.1" lengthAdjust="spacingAndGlyphs">)</tspan></text>
</g>
</svg></body></html>
